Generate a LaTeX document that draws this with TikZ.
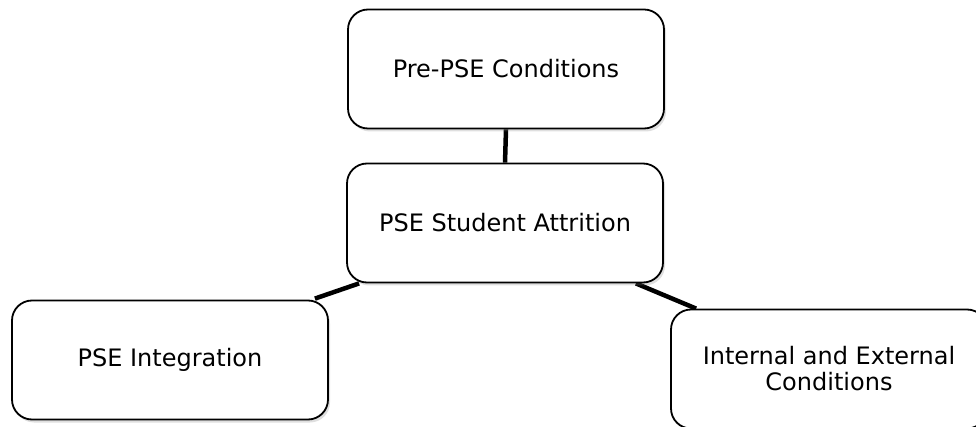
\documentclass[tikz,border=0pt]{standalone}
\usepackage{fontspec}
\setmainfont{DejaVu Sans}
\usetikzlibrary{shadows,backgrounds,calc}
\begin{document}
\begin{tikzpicture}[x=1pt,y=-1pt,
  box/.style={draw=black, line width=1.8pt, rounded corners=20pt, fill=white,
    minimum width=316pt, minimum height=119pt, inner sep=0pt, align=center,
    font=\fontsize{24}{26}\selectfont,
    drop shadow={opacity=0.25, shadow xshift=2pt, shadow yshift=-3pt}},
  link/.style={line width=4.5pt, black}]
\useasboundingbox (0,0) rectangle (976,427);
\node[box] (pre) at (506,69) {Pre-PSE Conditions};
\node[box] (mid) at (505,223) {PSE Student Attrition};
\node[box] (integ) at (170,360) {PSE Integration};
\node[box] (ext) at (829,369) {Internal and External\\Conditions};
\coordinate (m1) at ($(mid.south west)+(13,0)$);
\coordinate (m2) at ($(mid.south east)+(-28,0)$);
\coordinate (i1) at ($(integ.north east)+(-14,-1)$);
\coordinate (e1) at ($(ext.north west)+(26,0)$);
\begin{scope}[on background layer]
\draw[link] (pre.south) -- (mid.north);
\draw[link] (m1) -- (i1);
\draw[link] (m2) -- (e1);
\end{scope}
\end{tikzpicture}
\end{document}
